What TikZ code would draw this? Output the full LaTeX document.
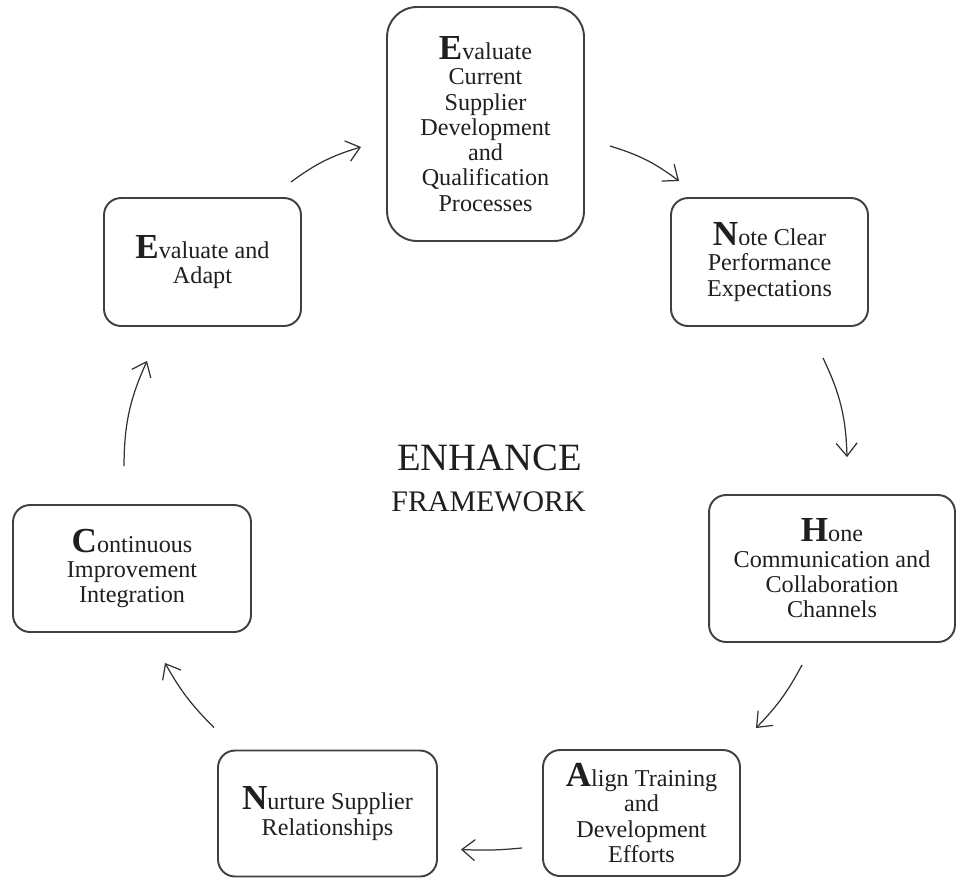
\documentclass[tikz,border=0pt]{standalone}
\usepackage{fontspec}
\setmainfont{Liberation Serif}
\usetikzlibrary{arrows.meta}

\newcommand{\firstletter}[1]{{\fontsize{20}{14.4}\selectfont\bfseries #1}}

\begin{document}
\begin{tikzpicture}[x=0.02cm,y=-0.02cm]
\tikzstyle{every node}+=[inner sep=0pt, text=black!88]
\tikzstyle{stage}=[draw=black!75, line width=1.1pt, rounded corners=0.34cm, align=center, font=\fontsize{13.75}{14.4}\selectfont]
\tikzstyle{flow}=[draw=black!80, line width=0.7pt, -{Straight Barb[length=2.6mm,width=4.2mm]}]
\useasboundingbox (0,0) rectangle (956,877);
\node [stage, rounded corners=0.6cm, minimum width=3.94cm, minimum height=4.68cm] (eval) at (485.5,124) {\firstletter{E}valuate\\Current\\Supplier\\Development\\and\\Qualification\\Processes};
\node [stage, minimum width=3.94cm, minimum height=2.56cm] (note) at (769.5,262) {\firstletter{N}ote Clear\\Performance\\Expectations};
\node [stage, minimum width=4.92cm, minimum height=2.94cm] (hone) at (832,568.5) {\firstletter{H}one\\Communication and\\Collaboration\\Channels};
\node [stage, minimum width=3.94cm, minimum height=2.52cm] (align) at (641.5,813) {\firstletter{A}lign Training\\and\\Development\\Efforts};
\node [stage, minimum width=4.38cm, minimum height=2.52cm] (nurture) at (327.5,813.5) {\firstletter{N}urture Supplier\\Relationships};
\node [stage, minimum width=4.76cm, minimum height=2.54cm] (cont) at (132,568.5) {\firstletter{C}ontinuous\\Improvement\\Integration};
\node [stage, minimum width=3.94cm, minimum height=2.56cm] (adapt) at (202.5,262) {\firstletter{E}valuate and\\Adapt};
\node [font=\fontsize{22}{24}\selectfont, anchor=base] (title) at (489.5,470) {ENHANCE};
\node [font=\fontsize{17}{20}\selectfont, anchor=base] (subtitle) at (488.5,511) {FRAMEWORK};
\draw [flow] ([xshift=-0.22cm,yshift=0.3cm]adapt.north east) to [bend left=10] ([xshift=-0.5cm,yshift=-0.46cm]eval.west);
\draw [flow] ([xshift=0.5cm,yshift=-0.44cm]eval.east) to [bend left=10] ([xshift=0.18cm,yshift=0.32cm]note.north west);
\draw [flow] ([xshift=1.07cm,yshift=-0.62cm]note.south) to [bend left=12] ([xshift=0.3cm,yshift=0.74cm]hone.north);
\draw [flow] ([xshift=-0.6cm,yshift=-0.44cm]hone.south) to [bend left=8] ([xshift=0.3cm,yshift=0.42cm]align.north east);
\draw [flow] ([xshift=-0.4cm,yshift=0.58cm]align.south west) to [bend left=4] ([xshift=0.46cm,yshift=0.56cm]nurture.south east);
\draw [flow] ([xshift=-0.06cm,yshift=0.44cm]nurture.north west) to [bend left=8] ([xshift=0.66cm,yshift=-0.6cm]cont.south);
\draw [flow] ([xshift=-0.16cm,yshift=0.76cm]cont.north) to [bend left=12] ([xshift=-1.11cm,yshift=-0.68cm]adapt.south);
\end{tikzpicture}
\end{document}
